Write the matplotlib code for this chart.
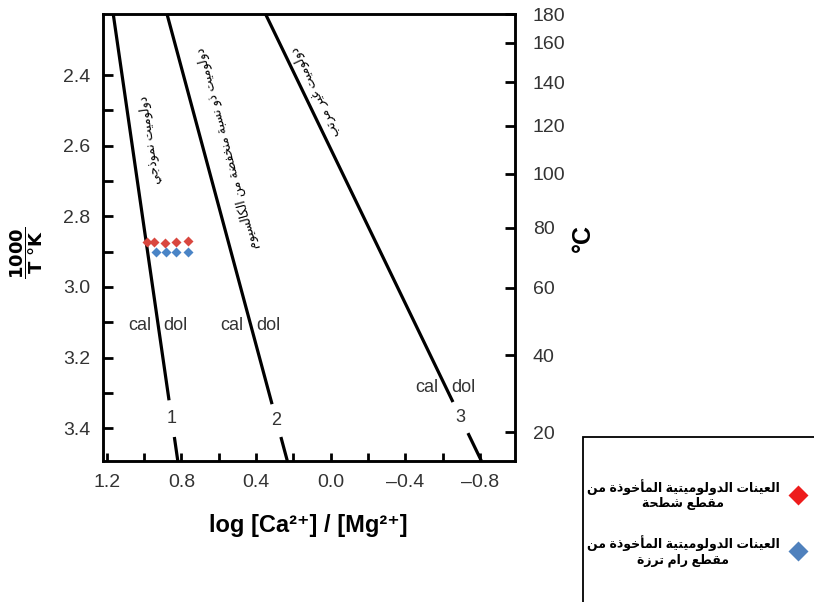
import numpy as np
import matplotlib
matplotlib.use("Agg")
import matplotlib.pyplot as plt
from matplotlib.lines import Line2D
from matplotlib.patches import Rectangle

plt.rcParams['font.family'] = ['Liberation Sans', 'DejaVu Sans']

# --------------------------------------------------------------------------- #
#  Data: dolomite / calcite stability lines, log[Ca]/[Mg] vs 1000/T
# --------------------------------------------------------------------------- #
Y_TOP, Y_BOT = 2.227, 3.493                 # 1000/T range of the diagram
LINE_X_TOP = [1.165, 0.877, 0.349]          # log ratio where each line meets Y_TOP
LINE_X_BOT = [0.819, 0.232, -0.808]         # ... and where it meets Y_BOT
LINE_GAPS = [(3.321, 3.425), (3.332, 3.425), (3.326, 3.414)]   # break for the number
LINE_NAMES = ["1", "2", "3"]
CALDOL_Y = [3.108, 3.108, 3.284]            # height of the "cal | dol" tags

LINE_LABELS = [
    "دولوميت نموذجي",
    "دولوميت ذو نسبة منخفضة من الكالسيوم",
    "دولوميت غير مرتب",
]
LINE_LABEL_XY = [(0.968, 2.584), (0.552, 2.607), (0.080, 2.448)]

# dolomite samples
SHATHA_X = [0.984, 0.947, 0.888, 0.829, 0.765]
SHATHA_Y = [2.873, 2.873, 2.876, 2.873, 2.870]
RAM_X = [0.936, 0.883, 0.829, 0.765]
RAM_Y = [2.901, 2.901, 2.901, 2.901]

SHATHA_NAME = "العينات الدولوميتية المأخوذة من\nمقطع شطحة"
RAM_NAME = "العينات الدولوميتية المأخوذة من\nمقطع رام ترزة"

X_TICKS = [1.2, 1.0, 0.8, 0.6, 0.4, 0.2, 0.0, -0.2, -0.4, -0.6, -0.8]
Y_TICKS = [2.4, 2.5, 2.6, 2.7, 2.8, 2.9, 3.0, 3.1, 3.2, 3.3, 3.4]
TEMPS_C = [20, 40, 60, 80, 100, 120, 140, 160, 180]

# --------------------------------------------------------------------------- #
#  Minimal Arabic shaping (presentation forms B) + visual reordering
# --------------------------------------------------------------------------- #
ARABIC_FORMS = {  # isolated-form code point, joins to the following letter
    'ا': (0xFE8D, False), 'أ': (0xFE83, False), 'ب': (0xFE8F, True),
    'ة': (0xFE93, False), 'ت': (0xFE95, True), 'ج': (0xFE9D, True),
    'ح': (0xFEA1, True), 'خ': (0xFEA5, True), 'د': (0xFEA9, False),
    'ذ': (0xFEAB, False), 'ر': (0xFEAD, False), 'ز': (0xFEAF, False),
    'س': (0xFEB1, True), 'ش': (0xFEB5, True), 'ض': (0xFEBD, True),
    'ط': (0xFEC1, True), 'ع': (0xFEC9, True), 'غ': (0xFECD, True),
    'ف': (0xFED1, True), 'ق': (0xFED5, True), 'ك': (0xFED9, True),
    'ل': (0xFEDD, True), 'م': (0xFEE1, True), 'ن': (0xFEE5, True),
    'ه': (0xFEE9, True), 'و': (0xFEED, False), 'ي': (0xFEF1, True),
}


def shape_arabic(text):
    lines = []
    for line in text.split("\n"):
        out = []
        for i, ch in enumerate(line):
            if ch not in ARABIC_FORMS:
                out.append(ch)
                continue
            base, dual = ARABIC_FORMS[ch]
            prev = line[i - 1] if i > 0 else ""
            nxt = line[i + 1] if i + 1 < len(line) else ""
            from_prev = prev in ARABIC_FORMS and ARABIC_FORMS[prev][1]
            to_next = dual and nxt in ARABIC_FORMS
            # isolated +0, final +1, initial +2, medial +3
            off = {(False, False): 0, (True, False): 1,
                   (False, True): 2, (True, True): 3}[(from_prev, to_next)]
            out.append(chr(base + off))
        lines.append("".join(reversed(out)))
    return "\n".join(lines)


# --------------------------------------------------------------------------- #
#  Figure
# --------------------------------------------------------------------------- #
fig = plt.figure(figsize=(8.14, 6.02), dpi=100)
ax = fig.add_axes([0.1265, 0.2342, 0.506, 0.7425])
ax.set_xlim(1.22, -0.987)
ax.set_ylim(Y_BOT, Y_TOP)

ys = np.array([Y_TOP, Y_BOT])
for xt, xb, (g0, g1), name, cy in zip(LINE_X_TOP, LINE_X_BOT, LINE_GAPS,
                                      LINE_NAMES, CALDOL_Y):
    xs = np.array([xt, xb])
    x_at = lambda y: np.interp(y, ys, xs)
    ax.plot([xt, x_at(g0)], [Y_TOP, g0], color="black", lw=2.3,
            solid_capstyle="butt", zorder=3, clip_on=False)
    ax.plot([x_at(g1), xb], [g1, Y_BOT], color="black", lw=2.3,
            solid_capstyle="butt", zorder=3)
    gm = 0.5 * (g0 + g1)
    ax.text(x_at(gm), gm, name, fontsize=13, color="#333333",
            ha="center", va="center")
    ax.annotate("cal", (x_at(cy), cy), xytext=(-5, 0), textcoords="offset points",
                ha="right", va="center", fontsize=13, color="#333333")
    ax.annotate("dol", (x_at(cy), cy), xytext=(4, 0), textcoords="offset points",
                ha="left", va="center", fontsize=13, color="#333333")

# Arabic captions running along each line
for xt, xb, txt, (lx, ly) in zip(LINE_X_TOP, LINE_X_BOT, LINE_LABELS, LINE_LABEL_XY):
    p0 = ax.transData.transform((xt, Y_TOP))
    p1 = ax.transData.transform((xb, Y_BOT))
    ang = np.degrees(np.arctan2(p0[1] - p1[1], p0[0] - p1[0]))
    ax.text(lx, ly, shape_arabic(txt), rotation=ang, rotation_mode="anchor",
            ha="center", va="center", fontsize=9, color="black")

ax.plot(SHATHA_X, SHATHA_Y, "D", color="#d9473f", ms=5, mec="none", zorder=4)
ax.plot(RAM_X, RAM_Y, "D", color="#4a84c6", ms=5, mec="none", zorder=4)

# axes styling
for side in ["left", "right", "top", "bottom"]:
    ax.spines[side].set_linewidth(1.8)
ax.set_xticks(X_TICKS)
ax.set_xticklabels([f"{v:.1f}".replace("-", "\u2013") if i % 2 == 0 else ""
                    for i, v in enumerate(X_TICKS)])
ax.set_yticks(Y_TICKS)
ax.set_yticklabels([f"{v:.1f}" if i % 2 == 0 else "" for i, v in enumerate(Y_TICKS)])
ax.tick_params(axis="x", direction="in", length=6, width=2, pad=9,
               labelsize=14, labelcolor="#333333")
ax.tick_params(axis="y", direction="in", length=7, width=2, pad=9,
               labelsize=14, labelcolor="#333333")

ax.set_xlabel("log [Ca²⁺] / [Mg²⁺]", fontsize=17, fontweight="bold")
ax.xaxis.set_label_coords(0.498, -0.118)
ax.set_ylabel(r"$\dfrac{\mathbf{1000}}{\mathbf{T\ °K}}$", fontsize=13)
ax.yaxis.set_label_coords(-0.14, 0.465)

# temperature scale on the right
ax2 = ax.twinx()
ax2.set_ylim(Y_BOT, Y_TOP)
t_pos = np.clip(1000.0 / (np.array(TEMPS_C) + 273.15), Y_TOP + 1e-4, Y_BOT)
ax2.set_yticks(t_pos)
ax2.set_yticklabels([str(t) for t in TEMPS_C])
ax2.tick_params(axis="y", direction="in", length=7, width=2, pad=13,
                labelsize=14, labelcolor="#333333")
for side in ["left", "right", "top", "bottom"]:
    ax2.spines[side].set_linewidth(1.8)
ax2.set_ylabel("°C", fontsize=18, fontweight="bold", rotation=90)
ax2.yaxis.set_label_coords(1.135, 0.5)

# sample legend in a framed box at the lower right
fig.patches.append(Rectangle((0.716, -0.02), 0.3, 0.294, transform=fig.transFigure,
                             facecolor="white", edgecolor="black", lw=1.3))
handles = [Line2D([], [], ls="none", marker="D", ms=10, color="#ee1c1c", mec="none"),
           Line2D([], [], ls="none", marker="D", ms=10, color="#4f81bd", mec="none")]
leg = fig.legend(handles, [shape_arabic(SHATHA_NAME), shape_arabic(RAM_NAME)],
                 loc="center right", bbox_to_anchor=(0.99, 0.131), frameon=False,
                 markerfirst=False, handlelength=1.2, handletextpad=0.9,
                 labelspacing=2.0, borderpad=0, borderaxespad=0,
                 prop={"size": 9, "weight": "bold"})
for t in leg.get_texts():
    t.set_multialignment("center")

fig.savefig("out.png", dpi=100)
